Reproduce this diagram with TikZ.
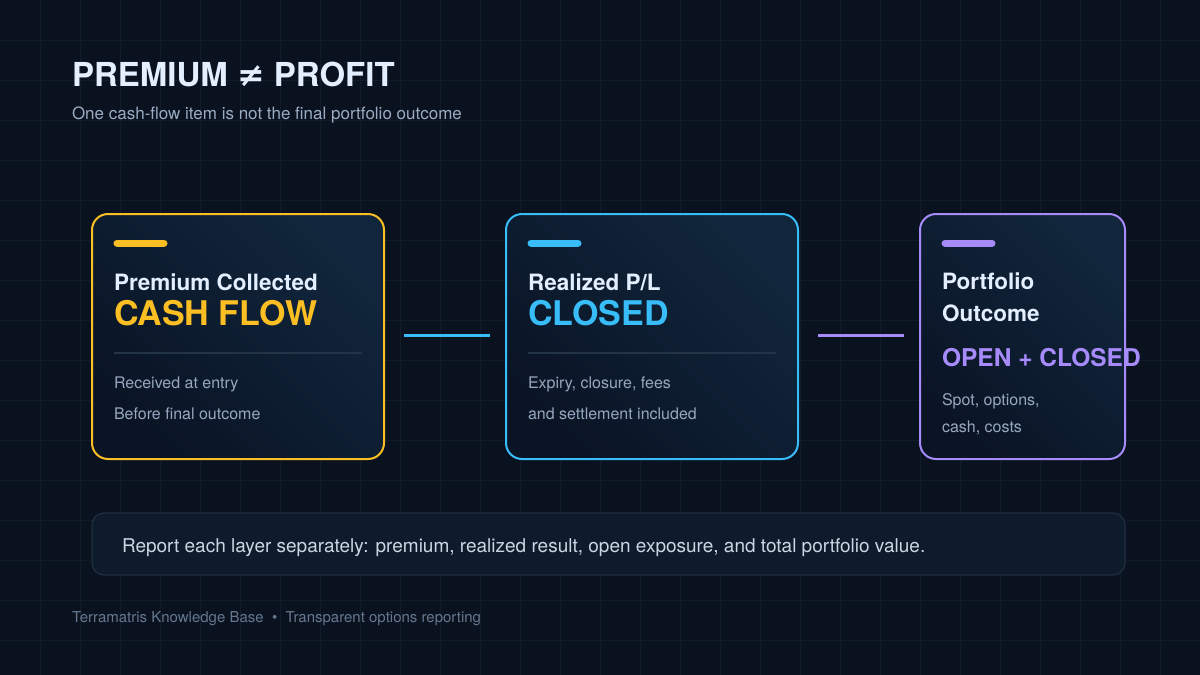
\documentclass[tikz,border=0pt]{standalone}
\usepackage{fontspec}
\setmainfont{TeX Gyre Heros}
\newfontfamily\symfont{DejaVu Sans}
\definecolor{bg}{HTML}{0A1220}
\definecolor{gridc}{HTML}{111C2A}
\definecolor{titlec}{HTML}{E3EEFF}
\definecolor{subc}{HTML}{9AABC2}
\definecolor{bodyc}{HTML}{97A8BE}
\definecolor{yel}{HTML}{FBBF24}
\definecolor{blu}{HTML}{38BDF8}
\definecolor{pur}{HTML}{A78BFA}
\definecolor{cardA}{HTML}{11263C}
\definecolor{cardB}{HTML}{0A1425}
\definecolor{divc}{HTML}{243447}
\definecolor{notefill}{HTML}{0E1B2B}
\definecolor{noteline}{HTML}{1F2E40}
\definecolor{notetext}{HTML}{CBD6E4}
\definecolor{footc}{HTML}{66788F}
\begin{document}
\begin{tikzpicture}[x=1pt,y=-1pt,
  txt/.style={anchor=base west,inner sep=0pt,outer sep=0pt},
  card/.style={rectangle,rounded corners=16pt,line width=2pt,minimum width=#1,minimum height=245pt,inner sep=0pt,
     left color=cardA,right color=cardB,shading angle=-45},
  accent/.style={line width=7pt,line cap=round},
  cardtitle/.style={txt,text=titlec,font=\bfseries\fontsize{22.5}{27}\selectfont},
  cardbig/.style={txt,font=\bfseries\fontsize{34}{40}\selectfont},
  cardbody/.style={txt,text=bodyc,font=\fontsize{16}{19}\selectfont},
  divider/.style={draw=divc,line width=1.2pt},
  link/.style={line width=3pt}]
\fill[bg] (0,0) rectangle (1200,675);
\useasboundingbox (0,0) rectangle (1200,675);
\foreach \x in {40,80,...,1160} \draw[gridc,line width=0.8pt] (\x,0) -- (\x,675);
\foreach \y in {40,80,...,640} \draw[gridc,line width=0.8pt] (0,\y) -- (1200,\y);
% title
\node[txt,text=titlec,font=\bfseries\fontsize{33}{40}\selectfont] (title) at (72,86) {PREMIUM {\symfont ≠} PROFIT};
\node[txt,text=subc,font=\fontsize{17}{20}\selectfont] (subtitle) at (72,119) {One cash-flow item is not the final portfolio outcome};
% cards
\node[card=292pt,draw=yel] (c1) at (238,336.5) {};
\node[card=292pt,draw=blu] (c2) at (652,336.5) {};
\node[card=205pt,draw=pur] (c3) at (1022.5,336.5) {};
% card 1
\coordinate (a1s) at (117,243); \coordinate (a1e) at (164,243);
\draw[accent,yel] (a1s) -- (a1e);
\node[cardtitle] (t1) at (114,290) {Premium Collected};
\node[cardbig,text=yel] (b1) at (114,325) {CASH FLOW};
\coordinate (d1s) at (114,353); \coordinate (d1e) at (362,353);
\draw[divider] (d1s) -- (d1e);
\node[cardbody] (p1a) at (114,388) {Received at entry};
\node[cardbody] (p1b) at (114,419) {Before final outcome};
% card 2
\coordinate (a2s) at (531,243); \coordinate (a2e) at (578,243);
\draw[accent,blu] (a2s) -- (a2e);
\node[cardtitle] (t2) at (528,290) {Realized P/L};
\node[cardbig,text=blu] (b2) at (528,325) {CLOSED};
\coordinate (d2s) at (528,353); \coordinate (d2e) at (776,353);
\draw[divider] (d2s) -- (d2e);
\node[cardbody] (p2a) at (528,388) {Expiry, closure, fees};
\node[cardbody] (p2b) at (528,419) {and settlement included};
% card 3
\coordinate (a3s) at (945,243); \coordinate (a3e) at (992,243);
\draw[accent,pur] (a3s) -- (a3e);
\node[cardtitle] (t3a) at (942,289) {Portfolio};
\node[cardtitle] (t3b) at (942,321) {Outcome};
\node[txt,text=pur,font=\bfseries\fontsize{24.5}{29}\selectfont] (b3) at (942,366) {OPEN + CLOSED};
\node[cardbody] (p3a) at (942,405) {Spot, options,};
\node[cardbody] (p3b) at (942,432) {cash, costs};
% connectors
\draw[link,blu,shorten <=19pt,shorten >=15pt] ([yshift=1.5pt]c1.east) -- ([yshift=1.5pt]c2.west);
\draw[link,pur,shorten <=19pt,shorten >=15pt] ([yshift=1.5pt]c2.east) -- ([yshift=1.5pt]c3.west);
% note
\node[rectangle,rounded corners=12pt,fill=notefill,draw=noteline,line width=1.2pt,minimum width=1033pt,minimum height=62pt] (note) at (608.5,544) {};
\node[txt,text=notetext,font=\fontsize{19}{23}\selectfont] (notetxt) at (122,552) {Report each layer separately: premium, realized result, open exposure, and total portfolio value.};
% footer
\node[txt,text=footc,font=\fontsize{15}{18}\selectfont] (foot) at (72,622) {Terramatris Knowledge Base\ \ •\ \ Transparent options reporting};
\end{tikzpicture}
\end{document}
